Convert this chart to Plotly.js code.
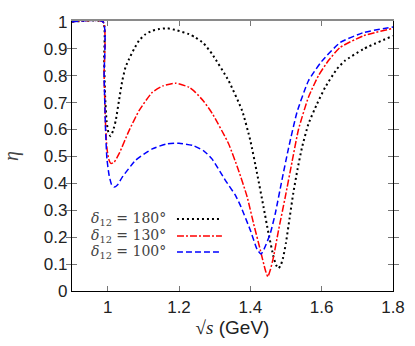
<!DOCTYPE html>
<html>
<head>
<meta charset="utf-8">
<script src="https://cdn.plot.ly/plotly-3.0.1.min.js"></script>
<style>html,body{margin:0;padding:0;background:#fff;}#chart{width:415px;height:346px;}</style>
</head>
<body>
<div id="chart"></div>
<script>
// sqrt(s) in GeV, eta values
const sqrtS180 = [0.90,0.987,0.990,0.993,0.997,1.002,1.008,1.015,1.0226,1.0317,1.041,1.050,1.060,1.074,1.0876,1.106,1.125,1.145,1.167,1.195,1.228,1.246,1.269,1.293,1.339,1.377,1.400,1.419,1.437,1.451,1.465,1.472,1.479,1.486,1.492,1.500,1.510,1.520,1.532,1.545,1.563,1.587,1.610,1.643,1.665,1.717,1.80];
const eta180   = [1,1,0.86,0.72,0.63,0.590,0.575,0.595,0.633,0.707,0.781,0.831,0.862,0.899,0.930,0.954,0.967,0.973,0.976,0.968,0.954,0.942,0.920,0.880,0.781,0.670,0.559,0.436,0.312,0.214,0.127,0.097,0.084,0.098,0.125,0.18,0.27,0.36,0.45,0.534,0.621,0.695,0.757,0.825,0.855,0.899,0.948];

const sqrtS130 = [0.90,0.987,0.990,0.994,0.998,1.003,1.009,1.018,1.032,1.060,1.088,1.125,1.155,1.190,1.228,1.246,1.269,1.293,1.339,1.367,1.391,1.409,1.428,1.442,1.449,1.456,1.465,1.479,1.498,1.517,1.535,1.563,1.591,1.619,1.652,1.717,1.80];
const eta130   = [1,1,0.80,0.62,0.53,0.49,0.474,0.478,0.51,0.596,0.670,0.738,0.762,0.772,0.757,0.738,0.705,0.660,0.547,0.448,0.350,0.251,0.152,0.078,0.053,0.078,0.127,0.225,0.350,0.480,0.600,0.720,0.800,0.856,0.905,0.948,0.976];

const sqrtS100 = [0.90,0.987,0.990,0.994,0.998,1.004,1.011,1.018,1.028,1.041,1.078,1.125,1.165,1.200,1.240,1.270,1.293,1.330,1.358,1.372,1.400,1.419,1.430,1.440,1.456,1.470,1.489,1.507,1.531,1.563,1.600,1.652,1.717,1.80];
const eta100   = [1,1,0.80,0.60,0.49,0.43,0.395,0.386,0.395,0.423,0.485,0.528,0.546,0.549,0.540,0.520,0.490,0.411,0.356,0.318,0.226,0.155,0.137,0.160,0.214,0.288,0.415,0.530,0.665,0.781,0.853,0.923,0.960,0.981];

const seriesLabels = ["180°","130°","100°"];
const colors = ["#000000","#ff0000","#0000ff"];
const dashes = ["2px,3px","7px,2px,2px,2px","6px,3px"];
const widths = [2,1.5,1.5];

const xs = [sqrtS180, sqrtS130, sqrtS100];
const ys = [eta180, eta130, eta100];

const traces = xs.map((x,i)=>({
  x: x, y: ys[i], type:"scatter", mode:"lines", name: "δ12 = " + seriesLabels[i],
  line:{color:colors[i], dash:dashes[i], width:widths[i], shape:"spline", smoothing:0.5},
  showlegend:false, hoverinfo:"skip"
}));
// empty trace to carry the top axis
traces.push({x:[], y:[], xaxis:"x2", type:"scatter", mode:"lines", showlegend:false, hoverinfo:"skip"});

// legend: text then line sample (gnuplot style)
const legY = [0.267,0.204,0.144];
const annotations = seriesLabels.map((t,i)=>({
  xref:"paper", yref:"paper", x:0.298, y:legY[i], xanchor:"right", yanchor:"middle",
  text:"<i>δ</i><sub>12</sub> = " + t, showarrow:false,
  font:{family:"DejaVu Serif, serif", size:14, color:"#444"}
}));
const shapes = colors.map((c,i)=>({
  type:"line", xref:"paper", yref:"paper", x0:0.327, x1:0.467, y0:legY[i], y1:legY[i],
  line:{color:c, dash:dashes[i], width:widths[i]}
}));

const serif = "font-family:'Liberation Serif',serif";
const layout = {
  width:415, height:346,
  margin:{l:72, r:22, t:20.5, b:55},
  paper_bgcolor:"#fff", plot_bgcolor:"#fff",
  font:{family:"Liberation Sans, Arial, sans-serif", size:17, color:"#222"},
  xaxis:{range:[0.9,1.8], dtick:0.2, tick0:1.0, showgrid:false, zeroline:false,
    showline:true, linecolor:"#000", linewidth:1.2, mirror:false,
    ticks:"inside", ticklen:5, tickcolor:"#777", tickwidth:1,
    title:{text:"<span style=\"" + serif + "\">√<i>s</i></span> (GeV)", font:{size:19, color:"#222"}, standoff:4}},
  xaxis2:{range:[0.9,1.8], dtick:0.2, tick0:1.0, overlaying:"x", side:"top", showgrid:false, zeroline:false,
    showline:true, linecolor:"#8a8a8a", linewidth:2, showticklabels:false,
    ticks:"inside", ticklen:5, tickcolor:"#777", tickwidth:1, layer:"below traces"},
  yaxis:{range:[0,1.003], tickvals:[0,0.1,0.2,0.3,0.4,0.5,0.6,0.7,0.8,0.9,1], showgrid:false, zeroline:false,
    showline:true, linecolor:"#000", linewidth:1.2, mirror:"allticks",
    ticks:"inside", ticklen:5, tickcolor:"#777", tickwidth:1,
    title:{text:"<i>η</i>", font:{family:"Liberation Serif, serif", size:20, color:"#444"}, standoff:22}},
  annotations: annotations,
  shapes: shapes
};

Plotly.newPlot("chart", traces, layout, {displayModeBar:false, staticPlot:true});
</script>
</body>
</html>
